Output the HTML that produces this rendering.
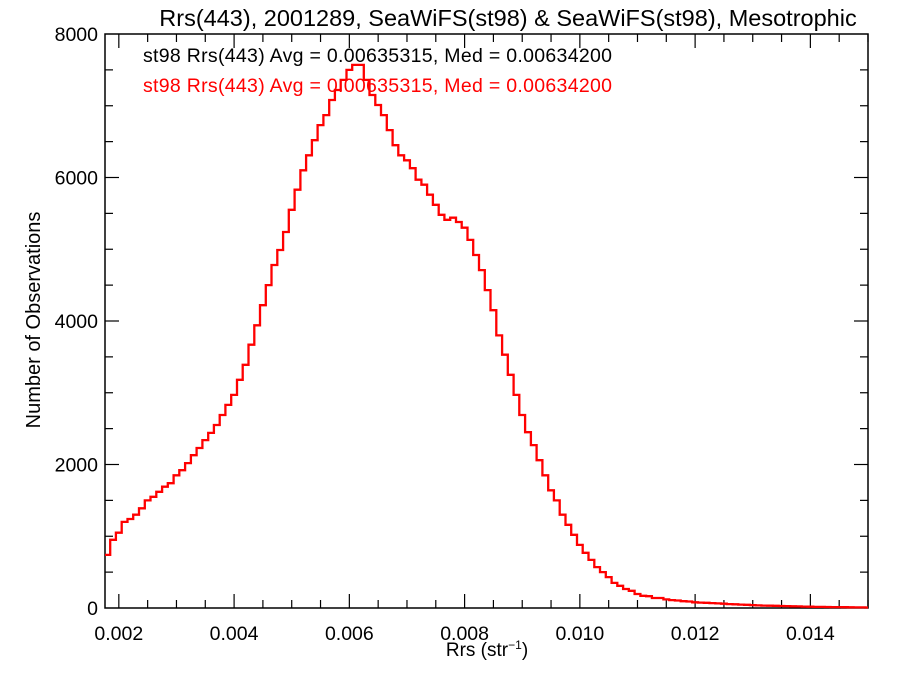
<!DOCTYPE html>
<html><head><meta charset="utf-8"><style>
body{margin:0;background:#fff;}
svg{display:block;font-family:"Liberation Sans",sans-serif;}
</style></head><body>
<svg id="chart" width="900" height="675" viewBox="0 0 900 675" xmlns="http://www.w3.org/2000/svg">
<text x="508" y="26" font-size="23.5" text-anchor="middle">Rrs(443), 2001289, SeaWiFS(st98) &amp; SeaWiFS(st98), Mesotrophic</text>
<g id="axes"></g>
<path id="hist" fill="none" stroke="#ff0000" stroke-width="2.3"/>
<text x="143" y="62" font-size="19.5" fill="#000" textLength="469">st98 Rrs(443) Avg = 0.00635315, Med = 0.00634200</text>
<text x="143" y="92" font-size="19.5" fill="#ff0000" textLength="469">st98 Rrs(443) Avg = 0.00635315, Med = 0.00634200</text>
<text transform="translate(40,320) rotate(-90)" font-size="20" text-anchor="middle">Number of Observations</text>
<text x="487" y="656" font-size="19" text-anchor="middle">Rrs (str<tspan dy="-7" font-size="12">−1</tspan><tspan dy="7">)</tspan></text>
</svg>
<script>
const binStart = 0.00175;
const binWidth = 0.0001;
const counts = [740,950,1050,1200,1240,1300,1390,1500,1550,1620,1690,1740,1850,1920,2020,2130,2230,2340,2440,2550,2690,2830,2970,3180,3390,3670,3940,4220,4500,4780,4990,5240,5550,5830,6100,6310,6520,6730,6870,7080,7220,7360,7500,7570,7570,7360,7150,7010,6870,6660,6450,6310,6240,6130,5970,5900,5760,5620,5480,5410,5440,5380,5300,5130,4920,4710,4430,4150,3800,3530,3250,2970,2690,2450,2270,2060,1850,1640,1500,1300,1160,1020,880,770,670,570,500,430,350,310,265,240,195,170,165,140,140,120,110,105,95,90,80,75,72,68,64,60,55,52,48,44,40,36,34,32,30,28,26,24,22,20,18,16,15,14,13,12,11,10,9,8,7,6,6,5];
const xTicks = [0.002,0.004,0.006,0.008,0.010,0.012,0.014];
const xTickLabels = ["0.002","0.004","0.006","0.008","0.010","0.012","0.014"];
const yTicks = [0,2000,4000,6000,8000];
const yTickLabels = ["0","2000","4000","6000","8000"];
const X0=105,X1=868,Y0=608,Y1=34,xMin=0.00176,xMax=0.015,yMin=0,yMax=8000;
const sx=v=>X0+(v-xMin)/(xMax-xMin)*(X1-X0);
const sy=v=>Y0-(v-yMin)/(yMax-yMin)*(Y0-Y1);
const NS="http://www.w3.org/2000/svg";
const axes=document.getElementById('axes');
function mk(tag,attrs){const e=document.createElementNS(NS,tag);for(const k in attrs)e.setAttribute(k,attrs[k]);axes.appendChild(e);return e;}
const frame=mk('rect',{x:X0,y:Y1,width:X1-X0,height:Y0-Y1,fill:'none',stroke:'#000','stroke-width':1.5});


for(let v=0.002;v<=xMax+1e-9;v+=0.0005){
  const x=sx(v);const major=Math.abs(v/0.002-Math.round(v/0.002))<1e-6;const L=major?14:8;
  const t1=mk('line',{x1:x,x2:x,y1:Y0,y2:Y0-L,stroke:'#000','stroke-width':1.2});
  
  
  const t2=mk('line',{x1:x,x2:x,y1:Y1,y2:Y1+L,stroke:'#000','stroke-width':1.2});
  
  
}
for(let v=500;v<yMax;v+=500){
  const y=sy(v);const L=(v%2000===0)?14:8;
  const t1=mk('line',{x1:X0,x2:X0+L,y1:y,y2:y,stroke:'#000','stroke-width':1.2});
  
  
  const t2=mk('line',{x1:X1,x2:X1-L,y1:y,y2:y,stroke:'#000','stroke-width':1.2});
  
  
}
xTicks.forEach((v,i)=>{
  const t=mk('text',{x:sx(v),y:640,'font-size':19.5,'text-anchor':'middle'});
  t.textContent=xTickLabels[i];
  
  
});
yTicks.forEach((v,i)=>{
  const t=mk('text',{x:98,y:sy(v)+7,'font-size':19.5,'text-anchor':'end'});
  t.textContent=yTickLabels[i];
  
  
});
let d='';
counts.forEach((c,i)=>{
  let a=Math.max(binStart+i*binWidth,xMin), b=Math.min(binStart+(i+1)*binWidth,xMax);
  if(b<=a)return;
  const y=sy(c);
  d+=(d?'L':'M')+sx(a).toFixed(1)+','+y.toFixed(1)+'L'+sx(b).toFixed(1)+','+y.toFixed(1);
});
document.getElementById('hist').setAttribute('d',d);
</script>
</body></html>
